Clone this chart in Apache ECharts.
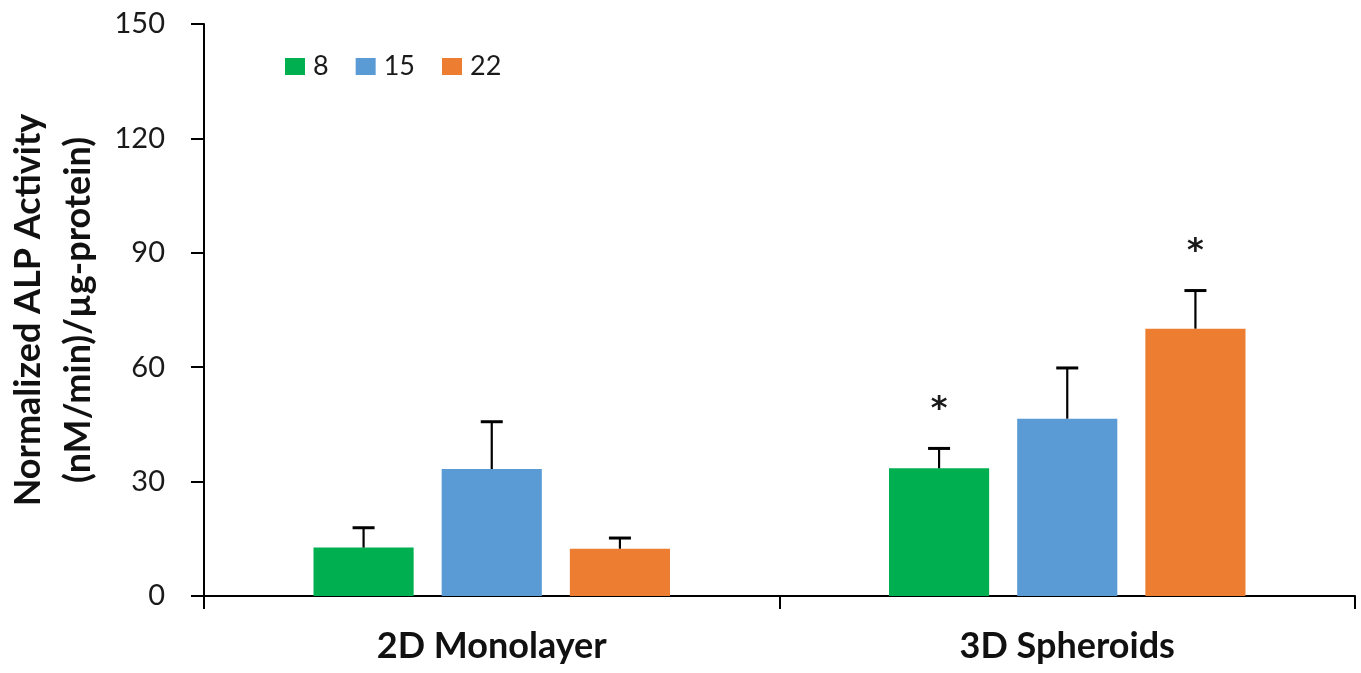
<!DOCTYPE html>
<html>
<head>
<meta charset="utf-8">
<script src="https://cdn.jsdelivr.net/npm/echarts@6/dist/echarts.min.js"></script>
<style>
html,body{margin:0;padding:0;background:#fff;}
#chart{width:1361px;height:673px;}
</style>
</head>
<body>
<div id="chart"></div>
<script>
const categories = ['2D Monolayer', '3D Spheroids'];
const seriesNames = ['8', '15', '22'];
const values8 = [12.7, 33.5];
const values15 = [33.3, 46.5];
const values22 = [12.4, 70.1];
const err8 = [5.2, 5.2];
const err15 = [12.4, 13.3];
const err22 = [2.8, 10.0];
const stars8 = ['', '*'];
const stars15 = ['', ''];
const stars22 = ['', '*'];
const yTicks = [0, 30, 60, 90, 120, 150];

const colors = ['#00B050', '#5B9BD5', '#ED7D31'];
const allValues = [values8, values15, values22];
const allErr = [err8, err15, err22];
const allStars = [stars8, stars15, stars22];

const BAR_PCT = 0.174;
const GAP_PCT = 0.28;
const FONT = 'Lato, "Open Sans", sans-serif';

const chart = echarts.init(document.getElementById('chart'));

const barSeries = seriesNames.map((n, i) => ({
  name: n,
  type: 'bar',
  data: allValues[i],
  barWidth: (BAR_PCT * 100) + '%',
  barGap: (GAP_PCT * 100) + '%',
  itemStyle: { color: colors[i] },
  z: 2
}));

const errSeries = seriesNames.map((n, i) => ({
  name: n + '_err',
  type: 'custom',
  z: 3,
  data: categories.map((c, k) => [k, allValues[i][k], allValues[i][k] + allErr[i][k]]),
  renderItem: function (params, api) {
    const k = api.value(0);
    const band = api.size([1, 0])[0];
    const bw = band * BAR_PCT;
    const offset = (i - 1) * bw * (1 + GAP_PCT);
    const base = api.coord([k, api.value(1)]);
    const top = api.coord([k, api.value(2)]);
    const x = base[0] + offset;
    const capHalf = 11;
    const children = [
      { type: 'line', shape: { x1: x, y1: base[1], x2: x, y2: top[1] }, style: { stroke: '#000', lineWidth: 2.2 } },
      { type: 'line', shape: { x1: x - capHalf, y1: top[1], x2: x + capHalf, y2: top[1] }, style: { stroke: '#000', lineWidth: 3 } }
    ];
    const star = allStars[i][k];
    if (star) {
      children.push({
        type: 'text',
        style: { text: star, x: x, y: top[1] - 39, align: 'center', verticalAlign: 'middle', fontSize: 32, fontWeight: 'bold', fontFamily: '"DejaVu Sans", sans-serif', fill: '#1a1a1a' }
      });
    }
    return { type: 'group', children: children };
  }
}));

chart.setOption({
  animation: false,
  backgroundColor: '#fff',
  grid: { left: 204, right: 6, top: 24, bottom: 77, containLabel: false, outerBoundsMode: 'none' },
  legend: {
    data: seriesNames,
    left: 285, top: 53,
    padding: 0,
    icon: 'rect',
    itemWidth: 20, itemHeight: 17,
    itemGap: 27,
    textStyle: { fontSize: 27, fontFamily: FONT, color: '#1a1a1a', padding: [0, 0, 0, 3] }
  },
  xAxis: {
    type: 'category',
    data: categories,
    axisLine: { lineStyle: { color: '#000', width: 2 } },
    axisTick: { show: true, length: 13, inside: false, lineStyle: { color: '#000', width: 2 } },
    axisLabel: { margin: 32, fontSize: 36, fontWeight: 'bold', fontFamily: FONT, color: '#111' }
  },
  yAxis: {
    type: 'value',
    min: 0, max: 150, interval: 30,
    name: 'Normalized ALP Activity\n(nM/min)/µg-protein)',
    nameLocation: 'middle',
    nameGap: 100,
    nameTextStyle: { fontSize: 36, fontWeight: 'bold', fontFamily: FONT, color: '#111', lineHeight: 50 },
    axisLine: { show: true, lineStyle: { color: '#000', width: 2 } },
    axisTick: { show: true, length: 13, inside: false, lineStyle: { color: '#000', width: 2 } },
    axisLabel: { margin: 39, fontSize: 29, fontFamily: FONT, color: '#1a1a1a',
      formatter: function (v) { return yTicks.indexOf(v) >= 0 ? String(v) : ''; } },
    splitLine: { show: false }
  },
  series: barSeries.concat(errSeries)
});
</script>
</body>
</html>
